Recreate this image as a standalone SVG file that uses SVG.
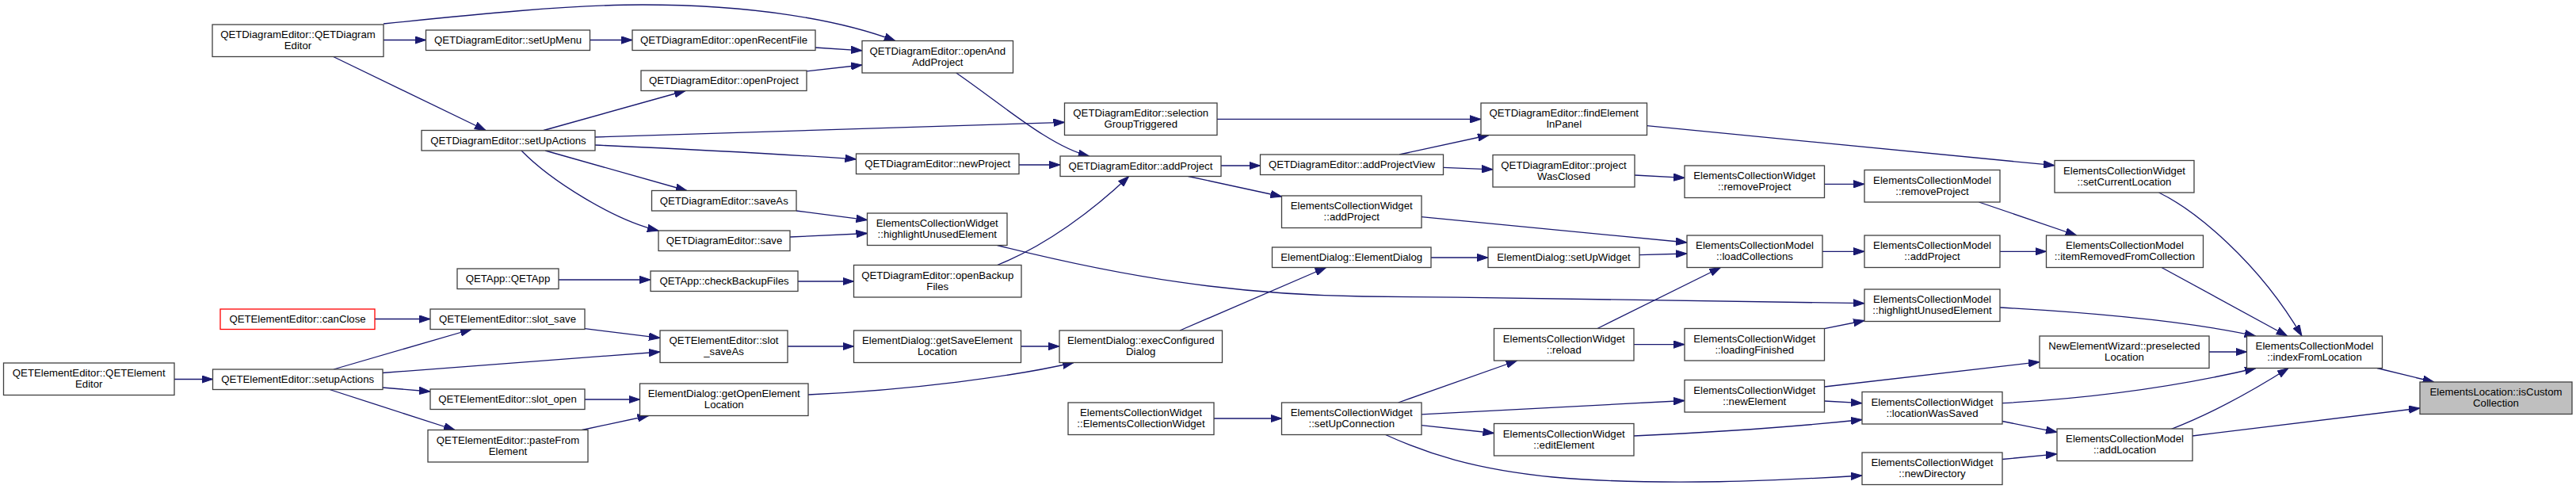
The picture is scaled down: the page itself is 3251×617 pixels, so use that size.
<svg xmlns="http://www.w3.org/2000/svg" width="3251" height="617" viewBox="0 0 3251 617">
<style>
.n rect{fill:#ffffff;stroke:#404040;stroke-width:1.3}
.n text{font-family:"Liberation Sans",Arial,Helvetica,sans-serif;font-size:13.2px;fill:#000000;text-anchor:middle}
.e path{fill:none;stroke:#191970;stroke-width:1.3;marker-end:url(#ah)}
</style>
<defs>
<marker id="ah" viewBox="0 0 14 10" refX="14" refY="5" markerWidth="14" markerHeight="10" markerUnits="userSpaceOnUse" orient="auto"><path d="M0,0.3 L14,5 L0,9.7 z" fill="#191970" stroke="#191970" stroke-width="1"/></marker>
</defs>
<rect x="0" y="0" width="3251" height="617" fill="#ffffff"/>
<g id="connectors" class="e">
<path d="M484,30 C600,18 720,6 811,6 C950,6 1060,25 1130,51.6"/>
<path d="M484,50.5 L537.5,50.5"/>
<path d="M419.6,71 L613,164.5"/>
<path d="M744.5,50.5 L798,50.5"/>
<path d="M1029,60 L1088,63.8"/>
<path d="M1018,89.8 L1088,82"/>
<path d="M686,164.5 L865,114.5"/>
<path d="M750.5,173 L1343.5,154.3"/>
<path d="M750.5,183 Q950,192 1080.5,200.8"/>
<path d="M688,190 L866.8,240.5"/>
<path d="M658,190 C695,228 775,278 831,291"/>
<path d="M1005,266 L1094.5,277.6"/>
<path d="M997,299 L1094.5,294.5"/>
<path d="M705,353 L821,353"/>
<path d="M1007,355 L1077.5,355"/>
<path d="M473,402.5 L543,402.5"/>
<path d="M220,478.5 L268.5,478.5"/>
<path d="M421,466 L595,415.5"/>
<path d="M482.5,470.5 L833,444"/>
<path d="M482.5,489 L543,494"/>
<path d="M416,491.5 L574,542.5"/>
<path d="M738,414.6 L833,426.4"/>
<path d="M994,437 L1077.5,437"/>
<path d="M738,504 L807.5,504"/>
<path d="M734.6,542.5 L818.6,524.5"/>
<path d="M1206.8,92 C1265,132 1325,185 1374.6,197"/>
<path d="M1286,208 L1338,208"/>
<path d="M1258.6,334.5 C1320,310 1380,265 1424.6,222.5"/>
<path d="M1258.6,309.5 C1420,350 1560,372 1720,374 C1950,376 2200,379 2353,382.7"/>
<path d="M1489,417 L1673.6,337.5"/>
<path d="M1288.5,437 L1337,437"/>
<path d="M1020,498 C1150,492 1280,475 1355,457.5"/>
<path d="M1541,209 L1590.5,209"/>
<path d="M1499.6,222.5 L1617.5,248"/>
<path d="M1536,150.4 L1869,150.4"/>
<path d="M1766,195 L1879,170.5"/>
<path d="M1821.5,211.4 L1884,213.8"/>
<path d="M2078.5,158.7 L2593,208.7"/>
<path d="M2063,221 L2126,224.4"/>
<path d="M1794,273.6 L2129,306"/>
<path d="M1806,325 L1878,325"/>
<path d="M2069,321.7 L2129,320"/>
<path d="M2016,414.5 L2171.5,337.5"/>
<path d="M2062,434.6 L2126,434.6"/>
<path d="M1764.6,508 L1914.6,455"/>
<path d="M1794,522.8 L2126,505.5"/>
<path d="M1794,536.6 L1885.5,546.5"/>
<path d="M1748.6,548.5 C1800,572 1860,592 1960,602 C2100,614 2250,606 2350,600"/>
<path d="M1532,528 L1617.5,528"/>
<path d="M2302.5,232.3 L2353,232.3"/>
<path d="M2300,317.3 L2353,317.3"/>
<path d="M2524,317.3 L2582.5,317.3"/>
<path d="M2497.5,255 L2620.7,297"/>
<path d="M2302.5,414.6 L2353,404.5"/>
<path d="M2302.5,488 L2574,456.7"/>
<path d="M2302.5,506 L2350,508.7"/>
<path d="M2062,550 C2150,546 2270,538 2350,529.5"/>
<path d="M2527,508.7 C2650,502 2760,485 2847,464.5"/>
<path d="M2527,531.5 L2596,545.3"/>
<path d="M2527,579.5 L2596,572.8"/>
<path d="M2724.6,243 C2770,265 2850,330 2905,424"/>
<path d="M2728,337.5 L2886.7,424"/>
<path d="M2524,388 C2650,395 2760,405 2846.7,424"/>
<path d="M2740.4,541.3 C2790,522 2840,495 2888,464.5"/>
<path d="M2788,444 L2835.5,444"/>
<path d="M3000,464.5 L3071.7,482"/>
<path d="M2767,550 L3054,515"/>
</g>
<g id="n1" class="n"><rect x="268" y="31" width="216" height="40.5"/><text x="376" y="48.25">QETDiagramEditor::QETDiagram</text><text x="376" y="62.25">Editor</text></g>
<g id="n2" class="n"><rect x="537.5" y="38" width="207" height="25.5"/><text x="641" y="55.25">QETDiagramEditor::setUpMenu</text></g>
<g id="n3" class="n"><rect x="798" y="38" width="231" height="25.5"/><text x="913.5" y="55.25">QETDiagramEditor::openRecentFile</text></g>
<g id="n4" class="n"><rect x="809" y="89" width="209" height="25.5"/><text x="913.5" y="106.25">QETDiagramEditor::openProject</text></g>
<g id="n5" class="n"><rect x="532" y="164.5" width="219" height="25.5"/><text x="641.5" y="181.75">QETDiagramEditor::setUpActions</text></g>
<g id="n6" class="n"><rect x="822.5" y="240.5" width="182.5" height="25.5"/><text x="913.75" y="257.75">QETDiagramEditor::saveAs</text></g>
<g id="n7" class="n"><rect x="831" y="291" width="166" height="25.5"/><text x="914" y="308.25">QETDiagramEditor::save</text></g>
<g id="n8" class="n"><rect x="577" y="339" width="128" height="25.5"/><text x="641" y="356.25">QETApp::QETApp</text></g>
<g id="n9" class="n"><rect x="821" y="342" width="186" height="25.5"/><text x="914" y="359.25">QETApp::checkBackupFiles</text></g>
<g id="n10" class="n"><rect x="278" y="390" width="195" height="25.5" style="stroke:#ff0000"/><text x="375.5" y="407.25">QETElementEditor::canClose</text></g>
<g id="n11" class="n"><rect x="543" y="390" width="195" height="25.5"/><text x="640.5" y="407.25">QETElementEditor::slot_save</text></g>
<g id="n12" class="n"><rect x="833" y="417" width="161" height="40.5"/><text x="913.5" y="434.25">QETElementEditor::slot</text><text x="913.5" y="448.25">_saveAs</text></g>
<g id="n13" class="n"><rect x="4.5" y="458" width="215.5" height="40.5"/><text x="112.25" y="475.25">QETElementEditor::QETElement</text><text x="112.25" y="489.25">Editor</text></g>
<g id="n14" class="n"><rect x="268.5" y="466" width="214.5" height="25.5"/><text x="375.75" y="483.25">QETElementEditor::setupActions</text></g>
<g id="n15" class="n"><rect x="543" y="491" width="195" height="25.5"/><text x="640.5" y="508.25">QETElementEditor::slot_open</text></g>
<g id="n16" class="n"><rect x="807.5" y="484" width="212.5" height="40.5"/><text x="913.75" y="501.25">ElementDialog::getOpenElement</text><text x="913.75" y="515.25">Location</text></g>
<g id="n17" class="n"><rect x="540" y="542.5" width="202" height="40.5"/><text x="641" y="559.75">QETElementEditor::pasteFrom</text><text x="641" y="573.75">Element</text></g>
<g id="n18" class="n"><rect x="1088" y="51.5" width="190.5" height="40.5"/><text x="1183.25" y="68.75">QETDiagramEditor::openAnd</text><text x="1183.25" y="82.75">AddProject</text></g>
<g id="n19" class="n"><rect x="1343.5" y="130" width="192.5" height="40.5"/><text x="1439.75" y="147.25">QETDiagramEditor::selection</text><text x="1439.75" y="161.25">GroupTriggered</text></g>
<g id="n20" class="n"><rect x="1080.5" y="194" width="205.5" height="25.5"/><text x="1183.25" y="211.25">QETDiagramEditor::newProject</text></g>
<g id="n21" class="n"><rect x="1338" y="197" width="203" height="25.5"/><text x="1439.5" y="214.25">QETDiagramEditor::addProject</text></g>
<g id="n22" class="n"><rect x="1094.5" y="269" width="176.5" height="40.5"/><text x="1182.75" y="286.25">ElementsCollectionWidget</text><text x="1182.75" y="300.25">::highlightUnusedElement</text></g>
<g id="n23" class="n"><rect x="1077.5" y="334.5" width="211.5" height="40.5"/><text x="1183.25" y="351.75">QETDiagramEditor::openBackup</text><text x="1183.25" y="365.75">Files</text></g>
<g id="n24" class="n"><rect x="1077.5" y="417" width="211" height="40.5"/><text x="1183" y="434.25">ElementDialog::getSaveElement</text><text x="1183" y="448.25">Location</text></g>
<g id="n25" class="n"><rect x="1337" y="417" width="205.5" height="40.5"/><text x="1439.75" y="434.25">ElementDialog::execConfigured</text><text x="1439.75" y="448.25">Dialog</text></g>
<g id="n26" class="n"><rect x="1348" y="508" width="184" height="40.5"/><text x="1440" y="525.25">ElementsCollectionWidget</text><text x="1440" y="539.25">::ElementsCollectionWidget</text></g>
<g id="n27" class="n"><rect x="1590.5" y="195" width="231" height="25.5"/><text x="1706" y="212.25">QETDiagramEditor::addProjectView</text></g>
<g id="n28" class="n"><rect x="1869" y="130" width="209.5" height="40.5"/><text x="1973.75" y="147.25">QETDiagramEditor::findElement</text><text x="1973.75" y="161.25">InPanel</text></g>
<g id="n29" class="n"><rect x="1884" y="195.5" width="179" height="40.5"/><text x="1973.5" y="212.75">QETDiagramEditor::project</text><text x="1973.5" y="226.75">WasClosed</text></g>
<g id="n30" class="n"><rect x="1617.5" y="247" width="176.5" height="40.5"/><text x="1705.75" y="264.25">ElementsCollectionWidget</text><text x="1705.75" y="278.25">::addProject</text></g>
<g id="n31" class="n"><rect x="1605.5" y="312" width="200.5" height="25.5"/><text x="1705.75" y="329.25">ElementDialog::ElementDialog</text></g>
<g id="n32" class="n"><rect x="1878" y="312" width="191" height="25.5"/><text x="1973.5" y="329.25">ElementDialog::setUpWidget</text></g>
<g id="n33" class="n"><rect x="1885.5" y="414.5" width="176.5" height="40.5"/><text x="1973.75" y="431.75">ElementsCollectionWidget</text><text x="1973.75" y="445.75">::reload</text></g>
<g id="n34" class="n"><rect x="1617.5" y="508" width="176.5" height="40.5"/><text x="1705.75" y="525.25">ElementsCollectionWidget</text><text x="1705.75" y="539.25">::setUpConnection</text></g>
<g id="n35" class="n"><rect x="1885.5" y="534.5" width="176.5" height="40.5"/><text x="1973.75" y="551.75">ElementsCollectionWidget</text><text x="1973.75" y="565.75">::editElement</text></g>
<g id="n36" class="n"><rect x="2126" y="209" width="176.5" height="40.5"/><text x="2214.25" y="226.25">ElementsCollectionWidget</text><text x="2214.25" y="240.25">::removeProject</text></g>
<g id="n37" class="n"><rect x="2353" y="214.5" width="171" height="40.5"/><text x="2438.5" y="231.75">ElementsCollectionModel</text><text x="2438.5" y="245.75">::removeProject</text></g>
<g id="n38" class="n"><rect x="2593" y="202.5" width="176" height="40.5"/><text x="2681" y="219.75">ElementsCollectionWidget</text><text x="2681" y="233.75">::setCurrentLocation</text></g>
<g id="n39" class="n"><rect x="2129" y="297" width="171" height="40.5"/><text x="2214.5" y="314.25">ElementsCollectionModel</text><text x="2214.5" y="328.25">::loadCollections</text></g>
<g id="n40" class="n"><rect x="2353" y="297" width="171" height="40.5"/><text x="2438.5" y="314.25">ElementsCollectionModel</text><text x="2438.5" y="328.25">::addProject</text></g>
<g id="n41" class="n"><rect x="2582.5" y="297" width="198" height="40.5"/><text x="2681.5" y="314.25">ElementsCollectionModel</text><text x="2681.5" y="328.25">::itemRemovedFromCollection</text></g>
<g id="n42" class="n"><rect x="2353" y="365" width="171" height="40.5"/><text x="2438.5" y="382.25">ElementsCollectionModel</text><text x="2438.5" y="396.25">::highlightUnusedElement</text></g>
<g id="n43" class="n"><rect x="2126" y="414.5" width="176.5" height="40.5"/><text x="2214.25" y="431.75">ElementsCollectionWidget</text><text x="2214.25" y="445.75">::loadingFinished</text></g>
<g id="n44" class="n"><rect x="2574" y="424" width="214" height="40.5"/><text x="2681" y="441.25">NewElementWizard::preselected</text><text x="2681" y="455.25">Location</text></g>
<g id="n45" class="n"><rect x="2126" y="479.5" width="176.5" height="40.5"/><text x="2214.25" y="496.75">ElementsCollectionWidget</text><text x="2214.25" y="510.75">::newElement</text></g>
<g id="n46" class="n"><rect x="2350" y="494.5" width="177" height="40.5"/><text x="2438.5" y="511.75">ElementsCollectionWidget</text><text x="2438.5" y="525.75">::locationWasSaved</text></g>
<g id="n47" class="n"><rect x="2596" y="541" width="171" height="40.5"/><text x="2681.5" y="558.25">ElementsCollectionModel</text><text x="2681.5" y="572.25">::addLocation</text></g>
<g id="n48" class="n"><rect x="2350" y="571" width="177" height="40.5"/><text x="2438.5" y="588.25">ElementsCollectionWidget</text><text x="2438.5" y="602.25">::newDirectory</text></g>
<g id="n49" class="n"><rect x="2835.5" y="424" width="171" height="40.5"/><text x="2921" y="441.25">ElementsCollectionModel</text><text x="2921" y="455.25">::indexFromLocation</text></g>
<g id="n50" class="n"><rect x="3054" y="482" width="192" height="40.5" style="fill:#bfbfbf"/><text x="3150" y="499.25">ElementsLocation::isCustom</text><text x="3150" y="513.25">Collection</text></g>
</svg>
